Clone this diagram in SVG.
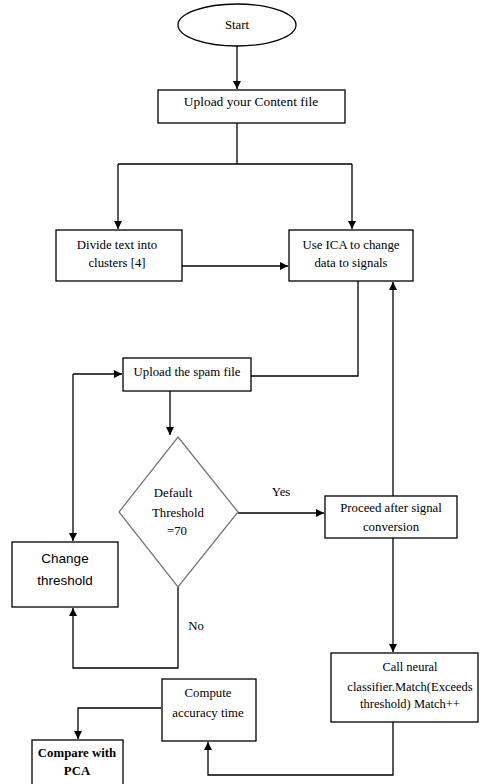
<svg xmlns="http://www.w3.org/2000/svg" width="480" height="784" viewBox="0 0 480 784">
<defs>
<marker id="ah" markerUnits="userSpaceOnUse" markerWidth="8" markerHeight="8" refX="8" refY="4" orient="auto">
<path d="M0,0 L8,4 L0,8 z" fill="#000"/>
</marker>
<style>
.b{fill:#fff;stroke:#000;stroke-width:1.3}
.t{font-family:"Liberation Serif",serif;font-size:12.8px;fill:#000;text-anchor:middle}
.s{font-family:"Liberation Sans",sans-serif;font-size:13.5px;fill:#000;text-anchor:middle}
.c{fill:none;stroke:#000;stroke-width:1.3}
</style>
</defs>
<rect width="480" height="784" fill="#fff"/>
<g id="connectors">
<path class="c" d="M237,46 V89" marker-end="url(#ah)"/>
<path class="c" d="M237,123 V164"/>
<path class="c" d="M118,164 H352"/>
<path class="c" d="M118,164 V229" marker-end="url(#ah)"/>
<path class="c" d="M352,164 V229" marker-end="url(#ah)"/>
<path class="c" d="M182,266 H288" marker-end="url(#ah)"/>
<path class="c" d="M358,281 V376 H251"/>
<path class="c" d="M393,496 V282" marker-end="url(#ah)"/>
<path class="c" d="M73,374 H122" marker-end="url(#ah)"/>
<path class="c" d="M73,374 V541" marker-end="url(#ah)"/>
<path class="c" d="M170,391 V435" marker-end="url(#ah)"/>
<path class="c" d="M238,513 H324" marker-end="url(#ah)"/>
<path class="c" d="M178,587 V668 H73 V608" marker-end="url(#ah)"/>
<path class="c" d="M393,538 V652" marker-end="url(#ah)"/>
<path class="c" d="M393,722 V775 H208 V742" stroke="#555" stroke-width="1.8" marker-end="url(#ah)"/>
<path class="c" d="M161,708 H78 V739" marker-end="url(#ah)"/>
<text class="t" x="281" y="496">Yes</text>
<text class="t" x="196" y="630">No</text>
</g>
<g id="start">
<ellipse class="b" cx="237" cy="25" rx="59" ry="21"/>
<text class="t" x="237" y="29">Start</text>
</g>
<g id="upload-content">
<rect class="b" x="158" y="90" width="187" height="33"/>
<text class="t" x="251" y="106" style="font-size:13.4px">Upload your Content file</text>
</g>
<g id="divide">
<rect class="b" x="56" y="230" width="126" height="51"/>
<text class="t" x="117" y="249">Divide text into</text>
<text class="t" x="117" y="267">clusters [4]</text>
</g>
<g id="ica">
<rect class="b" x="289" y="230" width="124" height="51"/>
<text class="t" x="351" y="249">Use ICA to change</text>
<text class="t" x="351" y="267">data to signals</text>
</g>
<g id="upload-spam">
<rect class="b" x="123" y="358" width="128" height="33"/>
<text class="t" x="187" y="376">Upload the spam file</text>
</g>
<g id="decision">
<polygon points="178,437 238,512 178,587 119,512" fill="#fff" stroke="#777" stroke-width="1.3"/>
<text class="t" x="173" y="497">Default</text>
<text class="t" x="178" y="517">Threshold</text>
<text class="t" x="177" y="535">=70</text>
</g>
<g id="change-threshold">
<rect class="b" x="12" y="542" width="106" height="65"/>
<text class="s" x="65" y="563">Change</text>
<text class="s" x="65" y="585">threshold</text>
</g>
<g id="proceed">
<rect class="b" x="325" y="496" width="132" height="42"/>
<text class="t" x="391" y="512">Proceed after signal</text>
<text class="t" x="391" y="531">conversion</text>
</g>
<g id="neural">
<rect class="b" x="331" y="653" width="147" height="69"/>
<text class="t" x="410" y="671" style="font-size:12.5px">Call neural</text>
<text class="t" x="410" y="691" style="font-size:12.5px">classifier.Match(Exceeds</text>
<text class="t" x="410" y="708" style="font-size:12.5px">threshold) Match++</text>
</g>
<g id="compute">
<rect class="b" x="162" y="679" width="94" height="62"/>
<text class="t" x="208" y="697">Compute</text>
<text class="t" x="208" y="717">accuracy time</text>
</g>
<g id="compare">
<rect class="b" x="32" y="740" width="91" height="50"/>
<text class="t" x="77" y="757" font-weight="bold">Compare with</text>
<text class="t" x="77" y="775" font-weight="bold">PCA</text>
</g>
</svg>
